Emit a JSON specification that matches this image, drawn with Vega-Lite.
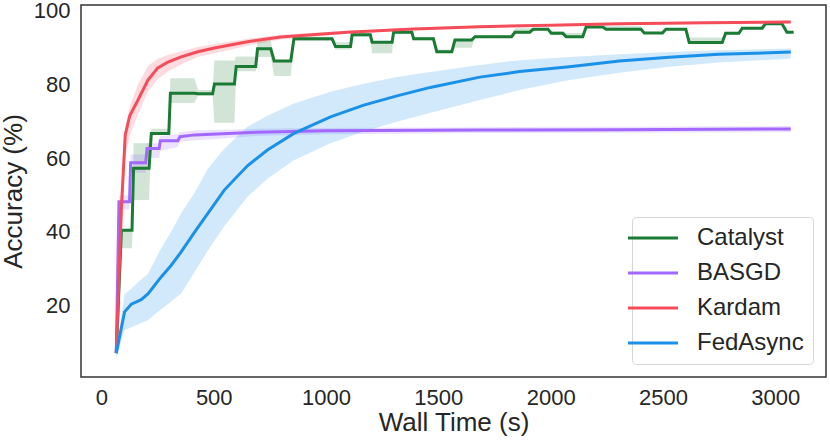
{
  "$schema": "https://vega.github.io/schema/vega-lite/v6.json",
  "width": 745,
  "height": 372,
  "autosize": {"type": "none"},
  "padding": {"left": 81, "top": 5, "right": 4, "bottom": 63},
  "background": "white",
  "config": {
    "font": "Liberation Sans",
    "view": {"stroke": "#333333", "strokeWidth": 1.5},
    "axis": {
      "domain": false,
      "ticks": false,
      "grid": false,
      "labelFont": "Liberation Sans",
      "labelFontSize": 22,
      "labelColor": "#262626",
      "titleFont": "Liberation Sans",
      "titleFontSize": 26,
      "titleFontWeight": "normal",
      "titleColor": "#262626"
    }
  },
  "data": {
    "values": [
      {"m": "Catalyst", "x": 66, "y": 7, "lo": 7, "hi": 7},
      {"m": "Catalyst", "x": 89, "y": 40.4, "lo": 35.5, "hi": 40.4},
      {"m": "Catalyst", "x": 136, "y": 40.4, "lo": 35.5, "hi": 40.4},
      {"m": "Catalyst", "x": 143, "y": 57.2, "lo": 48.6, "hi": 64},
      {"m": "Catalyst", "x": 212, "y": 57.2, "lo": 48.6, "hi": 64},
      {"m": "Catalyst", "x": 222, "y": 66.7, "lo": 66.7, "hi": 68},
      {"m": "Catalyst", "x": 300, "y": 66.7, "lo": 66.7, "hi": 68},
      {"m": "Catalyst", "x": 307, "y": 77.6, "lo": 75, "hi": 81.7},
      {"m": "Catalyst", "x": 414, "y": 77.6, "lo": 75, "hi": 81.7},
      {"m": "Catalyst", "x": 430, "y": 77.5, "lo": 77, "hi": 78.5},
      {"m": "Catalyst", "x": 495, "y": 77.5, "lo": 77, "hi": 78.5},
      {"m": "Catalyst", "x": 503, "y": 80.1, "lo": 69.6, "hi": 86.5},
      {"m": "Catalyst", "x": 592, "y": 80.1, "lo": 69.6, "hi": 86.5},
      {"m": "Catalyst", "x": 600, "y": 84.9, "lo": 83.6, "hi": 87.6},
      {"m": "Catalyst", "x": 687, "y": 84.9, "lo": 83.6, "hi": 87.6},
      {"m": "Catalyst", "x": 695, "y": 89.7, "lo": 87.5, "hi": 92},
      {"m": "Catalyst", "x": 754, "y": 89.7, "lo": 87.5, "hi": 92},
      {"m": "Catalyst", "x": 769, "y": 86.4, "lo": 82.3, "hi": 86.4},
      {"m": "Catalyst", "x": 843, "y": 86.4, "lo": 82.3, "hi": 86.4},
      {"m": "Catalyst", "x": 857, "y": 92.4, "lo": 91.8, "hi": 93},
      {"m": "Catalyst", "x": 1027, "y": 92.4, "lo": 91.8, "hi": 93},
      {"m": "Catalyst", "x": 1042, "y": 90.3, "lo": 89.5, "hi": 91.5},
      {"m": "Catalyst", "x": 1109, "y": 90.3, "lo": 89.5, "hi": 91.5},
      {"m": "Catalyst", "x": 1116, "y": 93.5, "lo": 93, "hi": 94},
      {"m": "Catalyst", "x": 1197, "y": 93.5, "lo": 93, "hi": 94},
      {"m": "Catalyst", "x": 1205, "y": 91.5, "lo": 88.5, "hi": 91.8},
      {"m": "Catalyst", "x": 1294, "y": 91.5, "lo": 88.5, "hi": 91.8},
      {"m": "Catalyst", "x": 1301, "y": 94.2, "lo": 93.8, "hi": 94.6},
      {"m": "Catalyst", "x": 1382, "y": 94.2, "lo": 93.8, "hi": 94.6},
      {"m": "Catalyst", "x": 1390, "y": 92.4, "lo": 92, "hi": 93},
      {"m": "Catalyst", "x": 1478, "y": 92.4, "lo": 92, "hi": 93},
      {"m": "Catalyst", "x": 1493, "y": 88.9, "lo": 88.5, "hi": 89.5},
      {"m": "Catalyst", "x": 1560, "y": 88.9, "lo": 88.5, "hi": 89.5},
      {"m": "Catalyst", "x": 1574, "y": 92.1, "lo": 90, "hi": 92.4},
      {"m": "Catalyst", "x": 1648, "y": 92.1, "lo": 90, "hi": 92.4},
      {"m": "Catalyst", "x": 1663, "y": 93, "lo": 92.6, "hi": 93.4},
      {"m": "Catalyst", "x": 1826, "y": 93, "lo": 92.6, "hi": 93.4},
      {"m": "Catalyst", "x": 1841, "y": 94.2, "lo": 93.8, "hi": 95.3},
      {"m": "Catalyst", "x": 1907, "y": 94.2, "lo": 93.8, "hi": 95.3},
      {"m": "Catalyst", "x": 1922, "y": 95, "lo": 94.7, "hi": 95.3},
      {"m": "Catalyst", "x": 1988, "y": 95, "lo": 94.7, "hi": 95.3},
      {"m": "Catalyst", "x": 2003, "y": 93.9, "lo": 93.5, "hi": 94.5},
      {"m": "Catalyst", "x": 2054, "y": 93.9, "lo": 93.5, "hi": 94.5},
      {"m": "Catalyst", "x": 2069, "y": 93, "lo": 92.6, "hi": 94},
      {"m": "Catalyst", "x": 2143, "y": 93, "lo": 92.6, "hi": 94},
      {"m": "Catalyst", "x": 2158, "y": 95.6, "lo": 95.3, "hi": 95.9},
      {"m": "Catalyst", "x": 2232, "y": 95.6, "lo": 95.3, "hi": 95.9},
      {"m": "Catalyst", "x": 2247, "y": 95, "lo": 94.7, "hi": 95.8},
      {"m": "Catalyst", "x": 2402, "y": 95, "lo": 94.7, "hi": 95.8},
      {"m": "Catalyst", "x": 2417, "y": 94, "lo": 93.7, "hi": 94.3},
      {"m": "Catalyst", "x": 2498, "y": 94, "lo": 93.7, "hi": 94.3},
      {"m": "Catalyst", "x": 2513, "y": 95, "lo": 94.7, "hi": 95.3},
      {"m": "Catalyst", "x": 2602, "y": 95, "lo": 94.7, "hi": 95.3},
      {"m": "Catalyst", "x": 2617, "y": 91.4, "lo": 90.9, "hi": 92.8},
      {"m": "Catalyst", "x": 2764, "y": 91.4, "lo": 90.9, "hi": 92.8},
      {"m": "Catalyst", "x": 2779, "y": 93.9, "lo": 93.5, "hi": 94.3},
      {"m": "Catalyst", "x": 2838, "y": 93.9, "lo": 93.5, "hi": 94.3},
      {"m": "Catalyst", "x": 2853, "y": 95.3, "lo": 95, "hi": 95.6},
      {"m": "Catalyst", "x": 2942, "y": 95.3, "lo": 95, "hi": 95.6},
      {"m": "Catalyst", "x": 2956, "y": 96.5, "lo": 96.2, "hi": 96.8},
      {"m": "Catalyst", "x": 3030, "y": 96.5, "lo": 96.2, "hi": 96.8},
      {"m": "Catalyst", "x": 3052, "y": 94.2, "lo": 94, "hi": 94.5},
      {"m": "Catalyst", "x": 3082, "y": 94.2, "lo": 94, "hi": 94.5},

      {"m": "BASGD", "x": 66, "y": 7, "lo": 7, "hi": 7},
      {"m": "BASGD", "x": 78, "y": 48.1, "lo": 46, "hi": 49.8},
      {"m": "BASGD", "x": 125, "y": 48.1, "lo": 46, "hi": 49.8},
      {"m": "BASGD", "x": 130, "y": 58.7, "lo": 56, "hi": 61},
      {"m": "BASGD", "x": 197, "y": 58.7, "lo": 56, "hi": 61},
      {"m": "BASGD", "x": 203, "y": 62.6, "lo": 60, "hi": 64},
      {"m": "BASGD", "x": 257, "y": 62.6, "lo": 60, "hi": 64},
      {"m": "BASGD", "x": 262, "y": 64.7, "lo": 62, "hi": 66},
      {"m": "BASGD", "x": 340, "y": 64.7, "lo": 63, "hi": 66.5},
      {"m": "BASGD", "x": 350, "y": 65.8, "lo": 64.5, "hi": 67},
      {"m": "BASGD", "x": 414, "y": 66.3, "lo": 64.8, "hi": 67.5},
      {"m": "BASGD", "x": 690, "y": 67, "lo": 66, "hi": 68},
      {"m": "BASGD", "x": 1000, "y": 67.4, "lo": 66.5, "hi": 68.2},
      {"m": "BASGD", "x": 1685, "y": 67.6, "lo": 66.8, "hi": 68.4},
      {"m": "BASGD", "x": 2300, "y": 67.7, "lo": 66.9, "hi": 68.5},
      {"m": "BASGD", "x": 3069, "y": 67.9, "lo": 67, "hi": 68.7},

      {"m": "Kardam", "x": 66, "y": 7, "lo": 7, "hi": 7},
      {"m": "Kardam", "x": 89, "y": 46.7, "lo": 37, "hi": 50},
      {"m": "Kardam", "x": 106, "y": 66.3, "lo": 60, "hi": 68},
      {"m": "Kardam", "x": 126, "y": 71.5, "lo": 66, "hi": 74},
      {"m": "Kardam", "x": 163, "y": 75.8, "lo": 72, "hi": 80},
      {"m": "Kardam", "x": 207, "y": 81.2, "lo": 78, "hi": 85},
      {"m": "Kardam", "x": 251, "y": 84.5, "lo": 81.5, "hi": 87},
      {"m": "Kardam", "x": 296, "y": 86.1, "lo": 83.5, "hi": 88},
      {"m": "Kardam", "x": 355, "y": 87.5, "lo": 85.5, "hi": 89},
      {"m": "Kardam", "x": 429, "y": 88.9, "lo": 87.5, "hi": 90.2},
      {"m": "Kardam", "x": 503, "y": 89.9, "lo": 88.5, "hi": 91},
      {"m": "Kardam", "x": 650, "y": 91.6, "lo": 90.5, "hi": 92.4},
      {"m": "Kardam", "x": 798, "y": 92.9, "lo": 92.2, "hi": 93.5},
      {"m": "Kardam", "x": 1094, "y": 94.2, "lo": 93.8, "hi": 94.6},
      {"m": "Kardam", "x": 1390, "y": 95.1, "lo": 94.8, "hi": 95.4},
      {"m": "Kardam", "x": 1685, "y": 95.7, "lo": 95.4, "hi": 96},
      {"m": "Kardam", "x": 2000, "y": 96.1, "lo": 95.8, "hi": 96.4},
      {"m": "Kardam", "x": 2306, "y": 96.5, "lo": 96.2, "hi": 96.8},
      {"m": "Kardam", "x": 2700, "y": 96.8, "lo": 96.5, "hi": 97.1},
      {"m": "Kardam", "x": 3069, "y": 97, "lo": 96.7, "hi": 97.3},

      {"m": "FedAsync", "x": 66, "y": 7, "lo": 5.5, "hi": 7.5},
      {"m": "FedAsync", "x": 103, "y": 18.2, "lo": 13.2, "hi": 23},
      {"m": "FedAsync", "x": 133, "y": 20.3, "lo": 14, "hi": 24.5},
      {"m": "FedAsync", "x": 177, "y": 21.5, "lo": 15.2, "hi": 27},
      {"m": "FedAsync", "x": 207, "y": 23.1, "lo": 16, "hi": 28.5},
      {"m": "FedAsync", "x": 266, "y": 27.7, "lo": 18.9, "hi": 35.5},
      {"m": "FedAsync", "x": 310, "y": 30.8, "lo": 21, "hi": 40},
      {"m": "FedAsync", "x": 355, "y": 34.5, "lo": 23.2, "hi": 45},
      {"m": "FedAsync", "x": 414, "y": 39.8, "lo": 29, "hi": 50.5},
      {"m": "FedAsync", "x": 473, "y": 44.9, "lo": 34.8, "hi": 57},
      {"m": "FedAsync", "x": 547, "y": 51.3, "lo": 41.5, "hi": 62.5},
      {"m": "FedAsync", "x": 650, "y": 57.9, "lo": 49.5, "hi": 68.5},
      {"m": "FedAsync", "x": 739, "y": 62.2, "lo": 54.4, "hi": 71.5},
      {"m": "FedAsync", "x": 857, "y": 66.7, "lo": 59.4, "hi": 74.8},
      {"m": "FedAsync", "x": 1020, "y": 71.2, "lo": 64, "hi": 78},
      {"m": "FedAsync", "x": 1168, "y": 74.4, "lo": 67.2, "hi": 80.2},
      {"m": "FedAsync", "x": 1316, "y": 76.9, "lo": 69.9, "hi": 82},
      {"m": "FedAsync", "x": 1464, "y": 79.2, "lo": 72.3, "hi": 83.4},
      {"m": "FedAsync", "x": 1685, "y": 82, "lo": 75.8, "hi": 85.3},
      {"m": "FedAsync", "x": 1862, "y": 83.5, "lo": 78.5, "hi": 86.6},
      {"m": "FedAsync", "x": 2084, "y": 84.8, "lo": 81.2, "hi": 87.5},
      {"m": "FedAsync", "x": 2306, "y": 86.4, "lo": 83.2, "hi": 88.2},
      {"m": "FedAsync", "x": 2528, "y": 87.4, "lo": 84.8, "hi": 88.8},
      {"m": "FedAsync", "x": 2749, "y": 88.2, "lo": 86, "hi": 89.3},
      {"m": "FedAsync", "x": 3069, "y": 88.8, "lo": 87, "hi": 89.8}
    ]
  },
  "layer": [
    {
      "mark": {"type": "area", "opacity": 0.2, "interpolate": "linear"},
      "encoding": {
        "x": {"field": "x", "type": "quantitative"},
        "y": {"field": "lo", "type": "quantitative"},
        "y2": {"field": "hi"},
        "fill": {
          "field": "m",
          "type": "nominal",
          "scale": {
            "domain": ["FedAsync", "Kardam", "BASGD", "Catalyst"],
            "range": ["#1a90e8", "#f54c5a", "#a268ff", "#1b7a34"]
          },
          "legend": null
        }
      }
    },
    {
      "mark": {"type": "line", "strokeWidth": 3, "interpolate": "linear"},
      "encoding": {
        "x": {
          "field": "x",
          "type": "quantitative",
          "title": "Wall Time (s)",
          "scale": {"domain": [-91, 3226], "nice": false, "zero": false},
          "axis": {"values": [0, 500, 1000, 1500, 2000, 2500, 3000], "format": "d", "labelPadding": 10, "titlePadding": 1}
        },
        "y": {
          "field": "y",
          "type": "quantitative",
          "title": "Accuracy (%)",
          "scale": {"domain": [0.5, 101.6], "nice": false, "zero": false},
          "axis": {"values": [20, 40, 60, 80, 100], "labelPadding": 11, "titlePadding": 7}
        },
        "color": {
          "field": "m",
          "type": "nominal",
          "scale": {
            "domain": ["Catalyst", "BASGD", "Kardam", "FedAsync"],
            "range": ["#1b7a34", "#a268ff", "#f54c5a", "#1a90e8"]
          },
          "legend": {
            "title": null,
            "orient": "none",
            "legendX": 551,
            "legendY": 212,
            "strokeColor": "#d6d6d6",
            "fillColor": "white",
            "cornerRadius": 4,
            "padding": 9,
            "labelFont": "Liberation Sans",
            "labelFontSize": 24,
            "labelColor": "#262626",
            "labelOffset": 32,
            "rowPadding": 11,
            "symbolType": "M-2.5,0H2.5",
            "symbolStrokeWidth": 3,
            "symbolSize": 400
          }
        }
      }
    }
  ]
}
